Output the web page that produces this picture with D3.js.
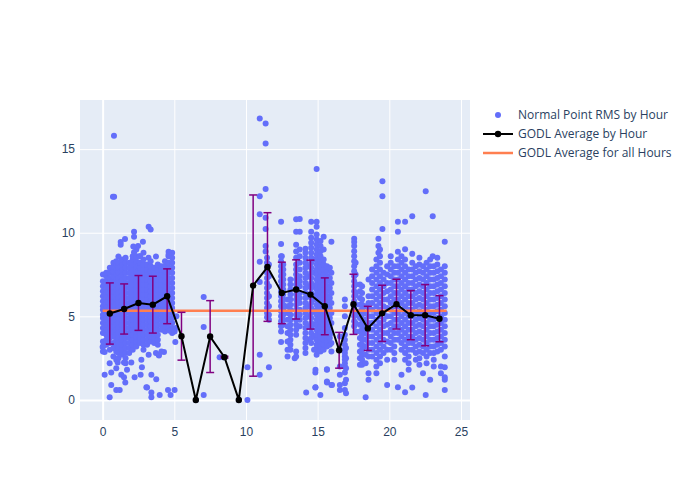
<!DOCTYPE html>
<html><head><meta charset="utf-8">
<script src="https://cdn.jsdelivr.net/npm/d3@7"></script>
<style>body{margin:0;background:#fff}svg{display:block}</style>
</head><body>
<script>
// ---- data ----
const hourX = [0.5,1.5,2.5,3.5,4.5,5.5,6.5,7.5,8.5,9.5,10.5,11.5,12.5,13.5,14.5,15.5,16.5,17.5,18.5,19.5,20.5,21.5,22.5,23.5];
const hourAvg = [5.17,5.44,5.8,5.7,6.2,3.81,0,3.79,2.56,0,6.84,7.95,6.4,6.61,6.3,5.6,2.97,5.72,4.28,5.18,5.73,5.07,5.07,4.86];
const hourStd = [1.83,1.5,1.64,1.7,1.64,1.43,0,2.15,0.05,0,5.42,3.25,1.84,1.77,2.06,1.7,1.07,1.8,1.32,1.68,1.49,1.47,1.83,1.38];
const overallAvg = 5.34;
const overallRange = [0, 24];
const xTicks = [0,5,10,15,20,25];
const yTicks = [0,5,10,15];
const legendLabels = ["Normal Point RMS by Hour","GODL Average by Hour","GODL Average for all Hours"];

// scatter: vertical streaks [x, [y...]]
const rmsCols = [
 [0.02,[2.9,3.2,3.5,4.0,4.3,4.6,4.9,5.1,5.4,5.6,5.9,6.2,6.5,6.8,7.1,7.5]],
 [0.25,[3.3,3.6,3.9,4.2,4.5,4.8,5.0,5.3,5.6,5.9,6.2,6.5,6.8,7.1,7.4,7.6]],
 [0.5,[3.0,3.4,3.7,4.0,4.3,4.6,4.9,5.2,5.5,5.8,6.1,6.4,6.7,7.0,7.3,7.6,7.9]],
 [0.75,[2.6,3.1,3.4,3.8,4.1,4.4,4.7,5.0,5.3,5.6,5.9,6.2,6.5,6.8,7.1,7.4,7.7,8.0,8.2]],
 [0.95,[1.9,2.4,2.9,3.3,3.6,3.9,4.2,4.5,4.8,5.1,5.4,5.7,6.0,6.3,6.6,6.9,7.2,7.5,7.8,8.1,8.3]],
 [1.1,[2.5,2.8,3.1,3.4,3.7,4.0,4.3,4.6,4.9,5.2,5.5,5.8,6.1,6.4,6.7,7.0,7.3,7.6,7.9,8.2,8.58]],
 [1.35,[2.7,3.0,3.3,3.6,3.9,4.2,4.5,4.8,5.1,5.4,5.7,6.0,6.3,6.6,6.9,7.2,7.5,7.8,8.1,8.4]],
 [1.6,[2.2,2.5,2.8,3.1,3.4,3.7,4.0,4.3,4.6,4.9,5.2,5.5,5.8,6.1,6.4,6.7,7.0,7.3,7.6,7.9,8.2,8.5]],
 [1.85,[2.8,3.1,3.4,3.7,4.0,4.3,4.6,4.9,5.2,5.5,5.8,6.1,6.4,6.7,7.0,7.3,7.6,7.9,8.2]],
 [2.1,[3.0,3.3,3.6,3.9,4.2,4.5,4.8,5.1,5.4,5.7,6.0,6.3,6.6,6.9,7.2,7.5,7.8,8.1,8.4,8.6]],
 [2.35,[3.2,3.5,3.8,4.1,4.4,4.7,5.0,5.3,5.6,5.9,6.2,6.5,6.8,7.1,7.4,7.7,8.0,8.3,8.6,9.0]],
 [2.6,[3.4,3.7,4.0,4.3,4.6,4.9,5.2,5.5,5.8,6.1,6.4,6.7,7.0,7.3,7.6,7.9,8.2,8.6]],
 [2.85,[3.0,3.3,3.6,3.9,4.2,4.5,4.8,5.1,5.4,5.7,6.0,6.3,6.6,6.9,7.2,7.5,7.8,8.1,8.4,8.8]],
 [3.1,[3.3,3.6,3.9,4.2,4.5,4.8,5.1,5.4,5.7,6.0,6.3,6.6,6.9,7.2,7.5,7.8,8.1]],
 [3.35,[3.5,3.8,4.1,4.4,4.7,5.0,5.3,5.6,5.9,6.2,6.5,6.8,7.1,7.4,7.7,8.0,8.3]],
 [3.6,[3.4,3.7,4.0,4.3,4.6,4.9,5.2,5.5,5.8,6.1,6.4,6.7,7.0,7.3,7.6,7.9]],
 [3.85,[3.3,3.6,3.9,4.2,4.5,4.8,5.1,5.4,5.7,6.0,6.3,6.6,6.9,7.2,7.5,7.8,8.1]],
 [4.1,[4.2,4.5,4.8,5.1,5.4,5.7,6.0,6.3,6.6,6.9,7.2,7.5,7.8,8.0]],
 [4.35,[4.1,4.4,4.7,5.0,5.3,5.6,5.9,6.2,6.5,6.8,7.1,7.4,7.7,8.0,8.3]],
 [4.6,[4.3,4.6,4.9,5.2,5.5,5.8,6.1,6.4,6.7,7.0,7.3,7.6,7.9,8.2,8.6]],
 [4.85,[4.0,4.3,4.6,4.9,5.2,5.5,5.8,6.1,6.4,6.7,7.0,7.3,7.6,7.9,8.2,8.5,8.8]],
 [11.47,[4.95,5.2,5.5,5.8,6.1,6.4,6.7,7.0,7.3,7.6,7.9,8.2,8.5]],
 [11.6,[4.8,5.1,5.6,6.2,6.8,7.4,8.1]],
 [12.45,[3.46,4.1,4.4,4.7,5.0,5.3,5.6,5.9,6.2,6.5,6.8,7.1,7.4,7.7,8.0,8.3,8.6,9.32,10.66]],
 [12.6,[4.5,4.8,5.1,5.4,5.7,6.0,6.3,6.6,6.9,7.2,7.5,7.8,8.1]],
 [12.9,[2.6,3.0,3.5,4.0,4.4,4.8,5.2,5.6,6.0]],
 [13.1,[3.0,3.3,3.6,3.9,4.2,4.5,4.8,5.1,5.4,5.7,6.0,6.3,6.6,6.9,7.2]],
 [13.5,[2.6,2.9,3.9,4.2,4.5,4.8,5.1,5.4,5.7,6.0,6.3,6.6,6.9,7.2,7.5,7.8,8.1,8.5,8.88,9.28,10.06,10.8]],
 [13.75,[4.4,4.8,5.1,5.4,5.8,6.1,6.4,6.8,7.1,7.4,7.8,8.2,8.6,9.0,10.06,10.82]],
 [14.15,[2.8,3.1,3.4,3.7,4.0,4.3,4.6,4.9,5.2,5.5,5.8,6.1,6.4,6.7,7.0,7.3,7.6,7.9,8.2,8.5,8.8,9.04]],
 [14.35,[3.6,4.4,5.0,5.6,6.2,6.8,7.4,8.0]],
 [14.55,[3.4,3.7,4.0,4.3,4.6,4.9,5.2,5.5,5.8,6.1,6.4,6.7,7.0,7.3,7.6,7.9,8.2,8.5,8.8,9.1,9.4,9.7,10.06,10.66]],
 [14.75,[3.0,3.8,4.5,5.3,6.0,6.8,7.6,8.4]],
 [14.93,[2.7,3.0,3.3,3.6,3.9,4.2,4.5,4.8,5.1,5.4,5.7,6.0,6.3,6.6,6.9,7.2,7.5,7.8,8.1,8.4,8.7,9.0,9.3,9.6,9.9,10.36,10.66,13.82]],
 [15.2,[2.9,3.2,3.5,3.8,4.1,4.4,4.7,5.0,5.3,5.6,5.9,6.2,6.5,6.8,7.1,7.4,7.7,8.0,8.3,8.6,8.9,9.2,9.5]],
 [15.42,[3.0,3.3,3.6,3.9,4.2,4.5,4.8,5.1,5.4,5.7,6.0,6.3,6.6,6.9,7.2,7.5,7.8,8.1,8.4,9.0,9.76]],
 [15.65,[1.04,1.1,1.84,3.2,3.5,3.8,4.1,4.4,4.7,5.0,5.3,5.6,5.9,6.2,6.5,6.8,7.1,7.4,7.7,8.0]],
 [15.85,[3.3,3.7,4.3,4.9,5.5,6.1,6.7,7.3,7.9]],
 [15.96,[0.9,2.9,3.4,4.0,4.6,5.2,5.8,6.4,7.0,7.6,9.46]],
 [16.55,[0.6,0.9,1.5,2.0,3.0,3.8]],
 [16.9,[0.6,1.0,1.64,2.0,2.2,2.4,2.6,2.8,3.0,3.3,3.6,3.9,4.3,5.0,5.6,6.0]],
 [16.98,[0.4,1.2,1.9,2.5,3.1]],
 [17.55,[4.4,4.7,5.0,5.3,5.6,5.9,6.2,6.5,6.8,7.1,7.4,7.7,8.0,8.3,8.6,8.9,9.2,9.44,9.64]],
 [17.65,[4.1,4.6,5.1,5.7,6.3,6.9,7.5,8.2]],
 [17.95,[2.1,2.5,2.9,3.3,3.7,4.1,4.5,4.9,5.3,5.7,6.1,6.5,6.9]],
 [18.1,[2.1,2.4,2.7,3.0,3.3,3.6,3.9,4.2,4.5,4.8,5.1,5.4,5.7,6.0,6.4,6.8]],
 [18.35,[0.16,2.2,2.7,3.2,3.6,4.0,4.4,4.8,5.2,5.6]],
 [18.55,[1.2,1.6,2.6,3.0,3.4,3.8,4.2,4.6,5.0,5.4,5.8,6.2,7.2]],
 [18.8,[2.6,3.0,3.4,3.8,4.2,4.6,5.0,5.4,5.8,6.2,6.6,7.0,7.4,7.8]],
 [19.1,[1.6,2.0,2.4,2.8,3.2,3.6,4.0,4.4,4.8,5.2,5.6,6.0,6.4,6.8,7.2,7.6,8.0,8.4]],
 [19.24,[8.8,9.2,9.64]],
 [19.35,[2.2,2.6,3.0,3.4,3.8,4.2,4.6,5.0,5.4,5.8,6.2,6.6,7.0,7.4,7.8,8.2,8.6,9.0]],
 [19.52,[10.22,12.18,13.08]],
 [19.6,[2.8,3.2,3.6,4.0,4.4,4.8,5.2,5.6,6.0,6.4,6.8,7.2,7.6]],
 [19.85,[0.9,2.4,3.0,3.5,4.0,4.5,5.0,5.5,6.0,6.5,7.0,7.5,8.0]],
 [20.1,[3.0,3.4,3.8,4.2,4.6,5.0,5.4,5.8,6.2,6.6,7.0,7.4,7.8,8.2,8.6]],
 [20.35,[2.4,2.8,3.2,3.6,4.0,4.4,4.8,5.2,5.6,6.0,6.4,6.8,7.2,7.6,8.0]],
 [20.6,[0.76,3.6,4.0,4.4,4.8,5.2,5.6,6.0,6.4,6.8,7.2,7.6,8.0,8.4,8.86,10.06,10.66]],
 [20.85,[1.5,3.0,3.4,3.8,4.2,4.6,5.0,5.4,5.8,6.2,6.6,7.0,7.4,7.8,8.2,8.6]],
 [21.1,[0.46,2.4,2.8,3.2,3.6,4.0,4.4,4.8,5.2,5.6,6.0,6.4,6.8,7.2,7.6,8.0,8.4,9.02,10.66]],
 [21.35,[1.8,2.2,2.6,3.0,3.4,3.8,4.2,4.6,5.0,5.4,5.8,6.2,6.6,7.0,7.4,7.8]],
 [21.6,[0.74,3.0,3.4,3.8,4.2,4.6,5.0,5.4,5.8,6.2,6.6,7.0,7.4,7.8,8.2,8.74,10.98]],
 [21.85,[2.4,2.8,3.2,3.6,4.0,4.4,4.8,5.2,5.6,6.0,6.4,6.8,7.2,7.6,8.0]],
 [22.1,[2.1,2.5,2.9,3.3,3.7,4.1,4.5,4.9,5.3,5.7,6.1,6.5,6.9,7.3,7.7,8.1,8.5]],
 [22.35,[1.6,2.8,3.2,3.6,4.0,4.4,4.8,5.2,5.6,6.0,6.4,6.8,7.2,7.6,8.0]],
 [22.54,[0.3,12.48]],
 [22.6,[2.2,2.6,3.0,3.4,3.8,4.2,4.6,5.0,5.4,5.8,6.2,6.6,7.0,7.4,7.8,8.2]],
 [22.85,[1.2,2.8,3.2,3.6,4.0,4.4,4.8,5.2,5.6,6.0,6.4,6.8,7.2,7.6,8.0,8.4]],
 [23.03,[8.6,10.98]],
 [23.1,[2.0,2.4,2.8,3.2,3.6,4.0,4.4,4.8,5.2,5.6,6.0,6.4,6.8,7.2,7.6,8.0]],
 [23.35,[2.9,3.3,3.7,4.1,4.5,4.9,5.3,5.7,6.1,6.5,6.9,7.3,7.7,8.1,8.5]],
 [23.6,[1.6,2.0,3.0,3.4,3.8,4.2,4.6,5.0,5.4,5.8,6.2,6.6,7.0,7.4,7.8]],
 [23.87,[0.6,1.2,1.36,1.96,2.6,3.2,3.6,4.0,4.4,4.8,5.2,5.6,6.0,6.4,6.8,7.2,7.6,8.0,9.46]]
];
// isolated points [x, y]
const rmsPoints = [
 [0.79,15.8],[0.72,12.16],[0.8,12.16],[0.14,1.5],[0.49,0.16],[0.6,0.9],[0.49,2.2],[0.6,1.64],[0.0,3.16],[0.14,2.86],
 [1.26,9.44],[1.26,9.28],[1.56,9.62],[0.95,0.6],[1.19,0.6],[1.3,1.5],[1.49,1.36],[1.58,1.04],[1.05,2.24],[1.49,2.24],[1.7,1.8],
 [2.19,10.06],[2.19,9.76],[2.47,9.2],[2.14,9.18],[2.81,9.46],[2.19,8.84],[2.6,8.6],[2.23,1.36],[2.65,1.5],[2.74,1.96],[2.0,2.24],[2.7,2.4],[3.1,0.74],
 [3.21,10.36],[3.35,10.2],[3.2,8.5],[3.72,8.58],[3.05,0.76],[3.4,0.44],[3.4,0.16],[3.4,1.5],[3.74,1.24],[3.21,2.7],[3.72,2.8],[3.9,2.7],[3.93,2.66],
 [4.6,8.86],[4.6,8.68],[4.28,2.86],[3.98,0.3],[4.56,0.6],[4.74,0.3],[4.68,4.14],[4.1,2.9],
 [5.02,0.6],[5.02,4.1],[5.07,3.46],[5.1,4.3],[5.15,5.0],
 [6.5,0],[7.05,6.16],[7.05,4.36],[7.05,0.3],[8.16,2.56],[8.44,2.56],[9.5,0],
 [10.1,0],[10.1,1.96],[10.96,1.5],[10.96,2.7],[10.96,7.06],[10.96,8.26],[10.96,11.1],[10.96,12.18],[10.96,16.84],
 [11.37,16.54],[11.37,15.34],[11.37,12.62],[11.37,10.9],[11.37,10.22],[11.37,9.2],[11.37,8.88],[11.6,1.96],
 [12.5,8.6],[12.98,3.5],[13.4,2.5],[14.2,0.44],[14.85,0.76],[14.85,1.8],[14.84,1.64],[14.84,0.74],[15.19,0.3],[16.0,0.9],[15.65,1.8]
];

// ---- drawing ----
const W = 700, H = 500;
const svg = d3.select("body").append("svg").attr("width", W).attr("height", H)
  .style("font-family", "'Open Sans', verdana, arial, sans-serif");
svg.append("rect").attr("width", W).attr("height", H).attr("fill", "#fff");

const x = d3.scaleLinear().domain([-1.58, 25.63]).range([80, 470]);
const y = d3.scaleLinear().domain([-1.2, 17.94]).range([420, 100]);

svg.append("rect").attr("x", 80).attr("y", 100).attr("width", 390).attr("height", 320).attr("fill", "#E5ECF6");

// grid
const gx = svg.append("g").attr("transform", "translate(0,420)")
  .call(d3.axisBottom(x).tickValues(xTicks).tickSize(-320).tickFormat(d3.format("d")));
const gy = svg.append("g").attr("transform", "translate(80,0)")
  .call(d3.axisLeft(y).tickValues(yTicks).tickSize(-390).tickFormat(d3.format("d")));
[gx, gy].forEach(g => {
  g.select(".domain").remove();
  g.selectAll(".tick line").attr("stroke", "#fff").attr("stroke-width", d => d === 0 ? 2 : 1);
  g.selectAll(".tick text").attr("fill", "#2a3f5f").style("font-size", "12px");
});
gx.selectAll(".tick text").attr("dy", "0.71em").attr("y", 7);
gy.selectAll(".tick text").attr("x", -5);

const plot = svg.append("g");
// scatter
const pts = [];
rmsCols.forEach(([cx, ys]) => ys.forEach(v => pts.push([cx, v])));
rmsPoints.forEach(p => pts.push(p));
plot.append("g").selectAll("circle").data(pts).join("circle")
  .attr("cx", d => x(d[0])).attr("cy", d => y(d[1])).attr("r", 3)
  .attr("fill", "#636efa");

// overall average line
plot.append("line").attr("x1", x(overallRange[0])).attr("x2", x(overallRange[1]))
  .attr("y1", y(overallAvg)).attr("y2", y(overallAvg))
  .attr("stroke", "#FF7F50").attr("stroke-width", 2.5);

// error bars
const eb = plot.append("g").attr("stroke", "#800080").attr("stroke-width", 1.5);
hourX.forEach((hx, i) => {
  if (hourStd[i] <= 0) return;
  const cx = x(hx), t = y(hourAvg[i] + hourStd[i]), b = y(hourAvg[i] - hourStd[i]);
  eb.append("line").attr("x1", cx).attr("x2", cx).attr("y1", t).attr("y2", b);
  eb.append("line").attr("x1", cx-4).attr("x2", cx+4).attr("y1", t).attr("y2", t);
  eb.append("line").attr("x1", cx-4).attr("x2", cx+4).attr("y1", b).attr("y2", b);
});

// average by hour
const avgData = hourX.map((hx, i) => [hx, hourAvg[i]]);
plot.append("path").datum(avgData)
  .attr("d", d3.line().x(d => x(d[0])).y(d => y(d[1])))
  .attr("fill", "none").attr("stroke", "#000").attr("stroke-width", 2);
plot.append("g").selectAll("circle").data(avgData).join("circle")
  .attr("cx", d => x(d[0])).attr("cy", d => y(d[1])).attr("r", 3.2).attr("fill", "#000");

// legend
const lg = svg.append("g");
const ly = [115, 134, 153];
lg.append("circle").attr("cx", 498).attr("cy", ly[0]).attr("r", 3).attr("fill", "#636efa");
lg.append("line").attr("x1", 483).attr("x2", 513).attr("y1", ly[1]).attr("y2", ly[1]).attr("stroke", "#000").attr("stroke-width", 2);
lg.append("circle").attr("cx", 498).attr("cy", ly[1]).attr("r", 3.2).attr("fill", "#000");
lg.append("line").attr("x1", 483).attr("x2", 513).attr("y1", ly[2]).attr("y2", ly[2]).attr("stroke", "#FF7F50").attr("stroke-width", 2.5);
legendLabels.forEach((t, i) => {
  lg.append("text").attr("x", 518).attr("y", ly[i]).attr("dy", "0.35em")
    .attr("fill", "#2a3f5f").style("font-size", "12px").text(t);
});
</script>
</body></html>
